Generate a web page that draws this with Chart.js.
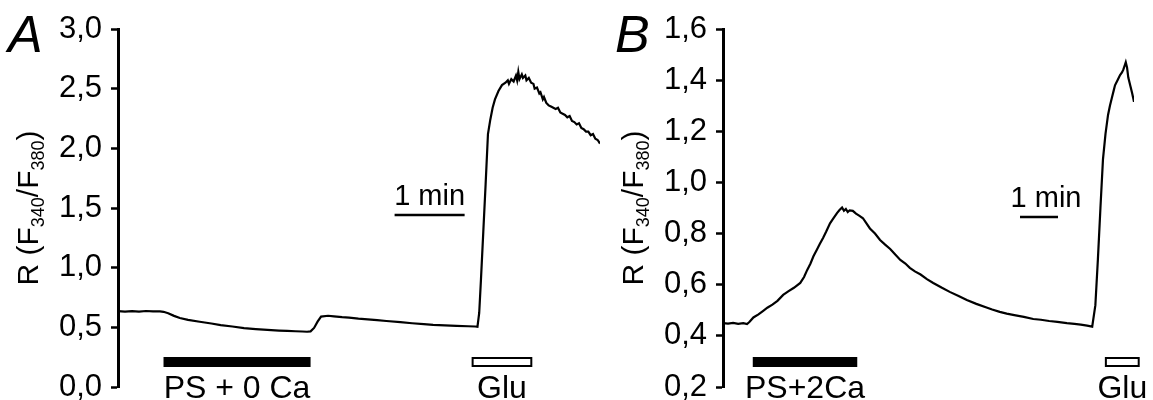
<!DOCTYPE html>
<html>
<head>
<meta charset="utf-8">
<title>Fura-2 ratio traces</title>
<script src="https://cdn.jsdelivr.net/npm/chart.js@4.4.1/dist/chart.umd.min.js"></script>
<style>
  html, body { margin: 0; padding: 0; background: #fff; overflow: hidden; }
  .wrap { position: relative; width: 1153px; height: 400px; }
  .panel { position: absolute; top: 0; }
  #panel-a { left: 0; }
  #panel-b { left: 600px; }
</style>
</head>
<body>
<div class="wrap">
  <div class="panel" id="panel-a"><canvas id="trace-a" width="610" height="400"></canvas></div>
  <div class="panel" id="panel-b"><canvas id="trace-b" width="553" height="400"></canvas></div>
</div>
<script>
// panel A: time (s) and F340/F380 ratio
const timeA = [0, 6, 12, 18, 24, 30, 36, 39, 43, 48, 53, 60, 70, 80, 88, 98, 108, 118, 128, 138,
  145, 152, 158, 162, 165, 168, 171, 174, 180, 185, 192, 198, 206, 214, 222, 230, 242, 252, 262,
  270, 280, 290, 300, 306, 308, 309.5, 311, 313, 315, 317, 319, 321, 323, 326, 329, 332, 334, 335,
  337, 339, 341, 342, 343, 344, 346, 347, 349, 350, 352, 354, 356, 357, 359, 361, 362, 364, 365,
  367, 369, 371, 373, 375, 377, 379, 381, 383, 385, 387, 389, 391, 393, 395, 397, 399, 401, 403,
  405, 407, 409, 411, 413];
const ratioA = [0.635, 0.632, 0.636, 0.631, 0.637, 0.633, 0.634, 0.630, 0.618, 0.596, 0.578, 0.562,
  0.547, 0.532, 0.518, 0.507, 0.494, 0.485, 0.478, 0.473, 0.470, 0.467, 0.465, 0.463, 0.466, 0.495,
  0.548, 0.590, 0.597, 0.592, 0.585, 0.581, 0.573, 0.567, 0.560, 0.553, 0.543, 0.534, 0.527, 0.521,
  0.516, 0.512, 0.509, 0.507, 0.505, 0.62, 0.90, 1.30, 1.70, 2.12, 2.24, 2.34, 2.41, 2.48, 2.53,
  2.55, 2.57, 2.54, 2.58, 2.56, 2.61, 2.57, 2.64, 2.58, 2.62, 2.59, 2.61, 2.57, 2.59, 2.55, 2.54,
  2.50, 2.51, 2.46, 2.47, 2.41, 2.43, 2.38, 2.36, 2.35, 2.34, 2.33, 2.34, 2.30, 2.29, 2.28, 2.26,
  2.27, 2.23, 2.22, 2.20, 2.21, 2.17, 2.16, 2.14, 2.14, 2.11, 2.12, 2.08, 2.07, 2.04];
const ticksA = [0, 0.5, 1.0, 1.5, 2.0, 2.5, 3.0];
const psA = [39, 165];      // PS + 0 Ca application (s)
const gluA = [303, 355];    // Glu application (s)
const minA = [237, 297];    // 1 min scale bar (s)

// panel B
const timeB = [0, 8, 16, 24, 32, 38, 42, 48, 56, 63, 70, 78, 86, 95, 103, 112, 122, 128, 133, 138,
  143, 148, 153, 158, 163, 169, 174, 180, 184, 188, 191, 194, 197, 200, 205, 210, 215, 221, 226,
  232, 240, 248, 256, 264, 272, 280, 288, 295, 303, 312, 322, 332, 345, 358, 372, 385, 400, 415,
  425, 437, 448, 460, 475, 490, 502, 515, 528, 543, 555, 565, 575, 583, 588, 592, 596, 600, 604,
  608, 611, 614, 617, 619, 623, 627, 630, 632, 634, 636, 638, 640, 643, 646, 649];
const ratioB = [0.450, 0.448, 0.451, 0.447, 0.450, 0.446, 0.455, 0.472, 0.484, 0.497, 0.510, 0.522,
  0.537, 0.560, 0.574, 0.588, 0.607, 0.630, 0.658, 0.682, 0.712, 0.736, 0.760, 0.783, 0.808, 0.840,
  0.858, 0.880, 0.892, 0.902, 0.889, 0.896, 0.884, 0.891, 0.889, 0.878, 0.870, 0.860, 0.842, 0.820,
  0.800, 0.775, 0.757, 0.740, 0.718, 0.697, 0.683, 0.666, 0.652, 0.640, 0.622, 0.607, 0.589, 0.572,
  0.556, 0.540, 0.525, 0.512, 0.503, 0.494, 0.487, 0.481, 0.474, 0.466, 0.463, 0.458, 0.455, 0.450,
  0.447, 0.444, 0.440, 0.436, 0.52, 0.70, 0.90, 1.09, 1.19, 1.264, 1.30, 1.33, 1.36, 1.38, 1.40,
  1.42, 1.43, 1.44, 1.455, 1.47, 1.45, 1.41, 1.38, 1.35, 1.315];
const ticksB = [0.2, 0.4, 0.6, 0.8, 1.0, 1.2, 1.4, 1.6];
const psB = [47, 212];
const gluB = [603, 658];
const minB = [469, 529];

const FONT = '"Liberation Sans", Arial, sans-serif';

// bars, labels, panel letter and axis title drawn on top of the chart
const annotate = {
  id: 'annotate',
  afterDraw(chart, args, o) {
    const { ctx, chartArea: area, scales: { x } } = chart;
    ctx.save();
    ctx.fillStyle = '#000';
    ctx.strokeStyle = '#000';
    ctx.textBaseline = 'alphabetic';

    ctx.font = 'italic 52px ' + FONT;
    ctx.textAlign = 'left';
    ctx.fillText(o.letter, o.letterX, 52);

    // y title R (F340/F380), rotated
    const parts = [['R (F', 30, 0], ['340', 18, 6], ['/F', 30, 0], ['380', 18, 6], [')', 30, 0]];
    let total = 0;
    parts.forEach(p => { ctx.font = p[1] + 'px ' + FONT; total += ctx.measureText(p[0]).width; });
    ctx.translate(o.titleX, (area.top + area.bottom) / 2);
    ctx.rotate(-Math.PI / 2);
    let pos = -total / 2;
    parts.forEach(p => {
      ctx.font = p[1] + 'px ' + FONT;
      ctx.fillText(p[0], pos, p[2]);
      pos += ctx.measureText(p[0]).width;
    });
    ctx.setTransform(1, 0, 0, 1, 0, 0);

    // stimulus bars
    ctx.textAlign = 'center';
    o.bars.forEach(b => {
      const x0 = x.getPixelForValue(b.range[0]);
      const x1 = x.getPixelForValue(b.range[1]);
      if (b.filled) {
        ctx.fillRect(x0, area.bottom - 30, x1 - x0, 10);
      } else {
        ctx.lineWidth = 2;
        ctx.strokeRect(x0 + 1, area.bottom - 29, x1 - x0 - 2, 8);
      }
      ctx.font = '32px ' + FONT;
      ctx.fillText(b.label, (x0 + x1) / 2, area.bottom + 11);
    });

    // 1 min scale bar
    const s0 = x.getPixelForValue(o.scaleBar[0]);
    const s1 = x.getPixelForValue(o.scaleBar[1]);
    ctx.lineWidth = 2.5;
    ctx.beginPath();
    ctx.moveTo(s0, o.scaleY);
    ctx.lineTo(s1, o.scaleY);
    ctx.stroke();
    ctx.font = '29px ' + FONT;
    ctx.fillText('1 min', (s0 + s1) / 2 + o.scaleTextShift, o.scaleY - 10);
    ctx.restore();
  }
};

const makePanel = (id, times, ratios, yTicks, axisX, padRight, extra) => {
  const points = times.map((t, i) => ({ x: t, y: ratios[i] }));
  return new Chart(document.getElementById(id), {
    type: 'line',
    data: {
      datasets: [{
        data: points,
        borderColor: '#000',
        borderWidth: 2.2,
        pointRadius: 0,
        tension: 0,
        fill: false
      }]
    },
    options: {
      responsive: false,
      animation: false,
      layout: { padding: { left: 0, right: padRight, top: 29, bottom: 13 } },
      scales: {
        x: {
          type: 'linear',
          display: false,
          min: times[0],
          max: times[times.length - 1]
        },
        y: {
          min: yTicks[0],
          max: yTicks[yTicks.length - 1],
          afterBuildTicks: s => { s.ticks = yTicks.map(v => ({ value: v })); },
          afterFit: s => { s.width = axisX; s.paddingTop = 0; s.paddingBottom = 0; },
          grid: { drawOnChartArea: false, tickLength: 7, tickWidth: 2.5, tickColor: '#000' },
          border: { color: '#000', width: 3 },
          ticks: {
            color: '#000',
            padding: 9,
            font: { family: FONT, size: 31 },
            callback: v => v.toFixed(1).replace('.', ',')
          }
        }
      },
      plugins: {
        legend: { display: false },
        tooltip: { enabled: false },
        annotate: extra
      }
    },
    plugins: [annotate]
  });
};

makePanel('trace-a', timeA, ratioA, ticksA, 118, 10, {
  letter: 'A', letterX: 8, titleX: 38,
  bars: [
    { range: psA, filled: true, label: 'PS + 0 Ca' },
    { range: gluA, filled: false, label: 'Glu' }
  ],
  scaleBar: minA, scaleY: 215, scaleTextShift: 0
});

makePanel('trace-b', timeB, ratioB, ticksB, 123, 19, {
  letter: 'B', letterX: 15, titleX: 43,
  bars: [
    { range: psB, filled: true, label: 'PS+2Ca' },
    { range: gluB, filled: false, label: 'Glu' }
  ],
  scaleBar: minB, scaleY: 217, scaleTextShift: 7
});
</script>
</body>
</html>
